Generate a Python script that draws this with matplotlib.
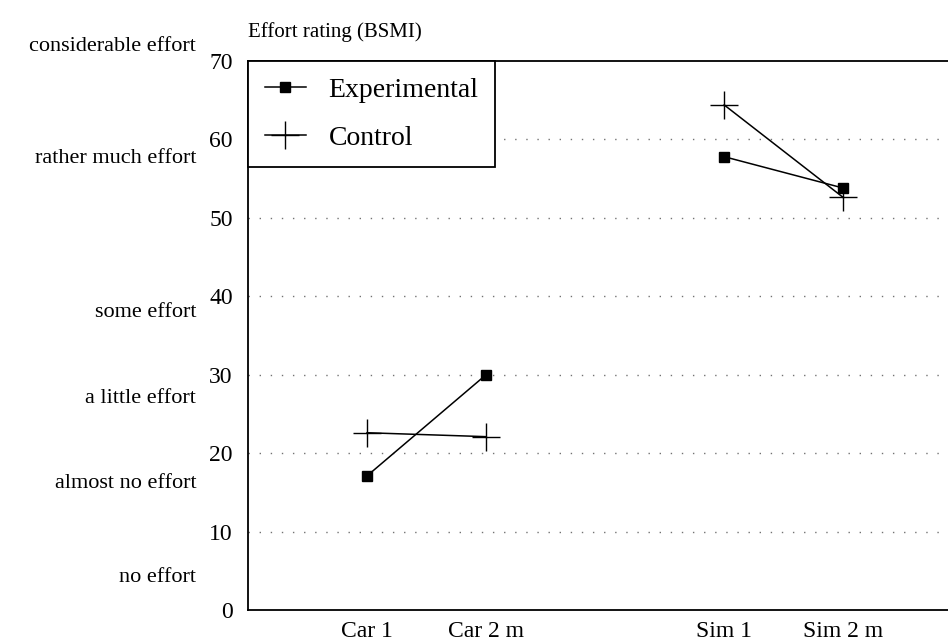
import numpy as np
import matplotlib.pyplot as plt
import matplotlib.transforms as mtransforms

plt.rcParams['font.family'] = ['Liberation Serif', 'DejaVu Serif']

# conditions and their places on the x axis (gap between car and sim)
conditions = ["Car 1", "Car 2 m", "Sim 1", "Sim 2 m"]
xpos = [1, 2, 4, 5]

# effort ratings
experimental = [17.1, 30.0, 57.8, 53.8]
control = [22.6, 22.1, 64.4, 52.6]

# verbal anchors of the BSMI scale
anchor_labels = ["considerable effort", "rather much effort", "some effort",
                 "a little effort", "almost no effort", "no effort"]
anchor_values = [71.8, 57.6, 37.9, 27.0, 16.1, 4.1]

fig = plt.figure(figsize=(9.48, 6.41), dpi=100)
ax = fig.add_axes([0.2616, 0.0484, 0.7384, 0.8564])

# dotted grid
for yv in range(10, 70, 10):
    ax.axhline(yv, color='0.45', lw=1.0, linestyle=(0, (1, 7)), zorder=0)

ax.plot(xpos[:2], experimental[:2], color='k', lw=1.1, marker='s', ms=7,
        label='Experimental')
ax.plot(xpos[2:], experimental[2:], color='k', lw=1.1, marker='s', ms=7)
ax.plot(xpos[:2], control[:2], color='k', lw=1.1, marker='+', ms=20,
        mew=1.0, label='Control')
ax.plot(xpos[2:], control[2:], color='k', lw=1.1, marker='+', ms=20, mew=1.0)

ax.set_xlim(0, 5.88)
ax.set_ylim(0, 70)
ax.set_yticks(np.arange(0, 71, 10))
ax.set_xticks(xpos)
ax.set_xticklabels(conditions)
ax.tick_params(axis='both', length=0, labelsize=17)
ax.tick_params(axis='y', pad=11)
ax.tick_params(axis='x', pad=8)
ax.spines['right'].set_visible(False)
for s in ['left', 'bottom', 'top']:
    ax.spines[s].set_linewidth(1.3)

ax.text(0.0, 1.035, "Effort rating (BSMI)", transform=ax.transAxes,
        fontsize=15, ha='left', va='bottom')

trans = mtransforms.blended_transform_factory(fig.transFigure, ax.transData)
for lab, v in zip(anchor_labels, anchor_values):
    ax.text(0.207, v, lab, transform=trans, ha='right', va='center',
            fontsize=16, clip_on=False)

leg = ax.legend(loc='upper left', fontsize=20, frameon=True, fancybox=False,
                borderaxespad=0, handlelength=1.5, borderpad=0.6,
                labelspacing=0.8, handletextpad=0.8)
leg.get_frame().set_edgecolor('k')
leg.get_frame().set_linewidth(1.3)
leg.get_frame().set_alpha(1)

fig.savefig('out.png', dpi=100)
